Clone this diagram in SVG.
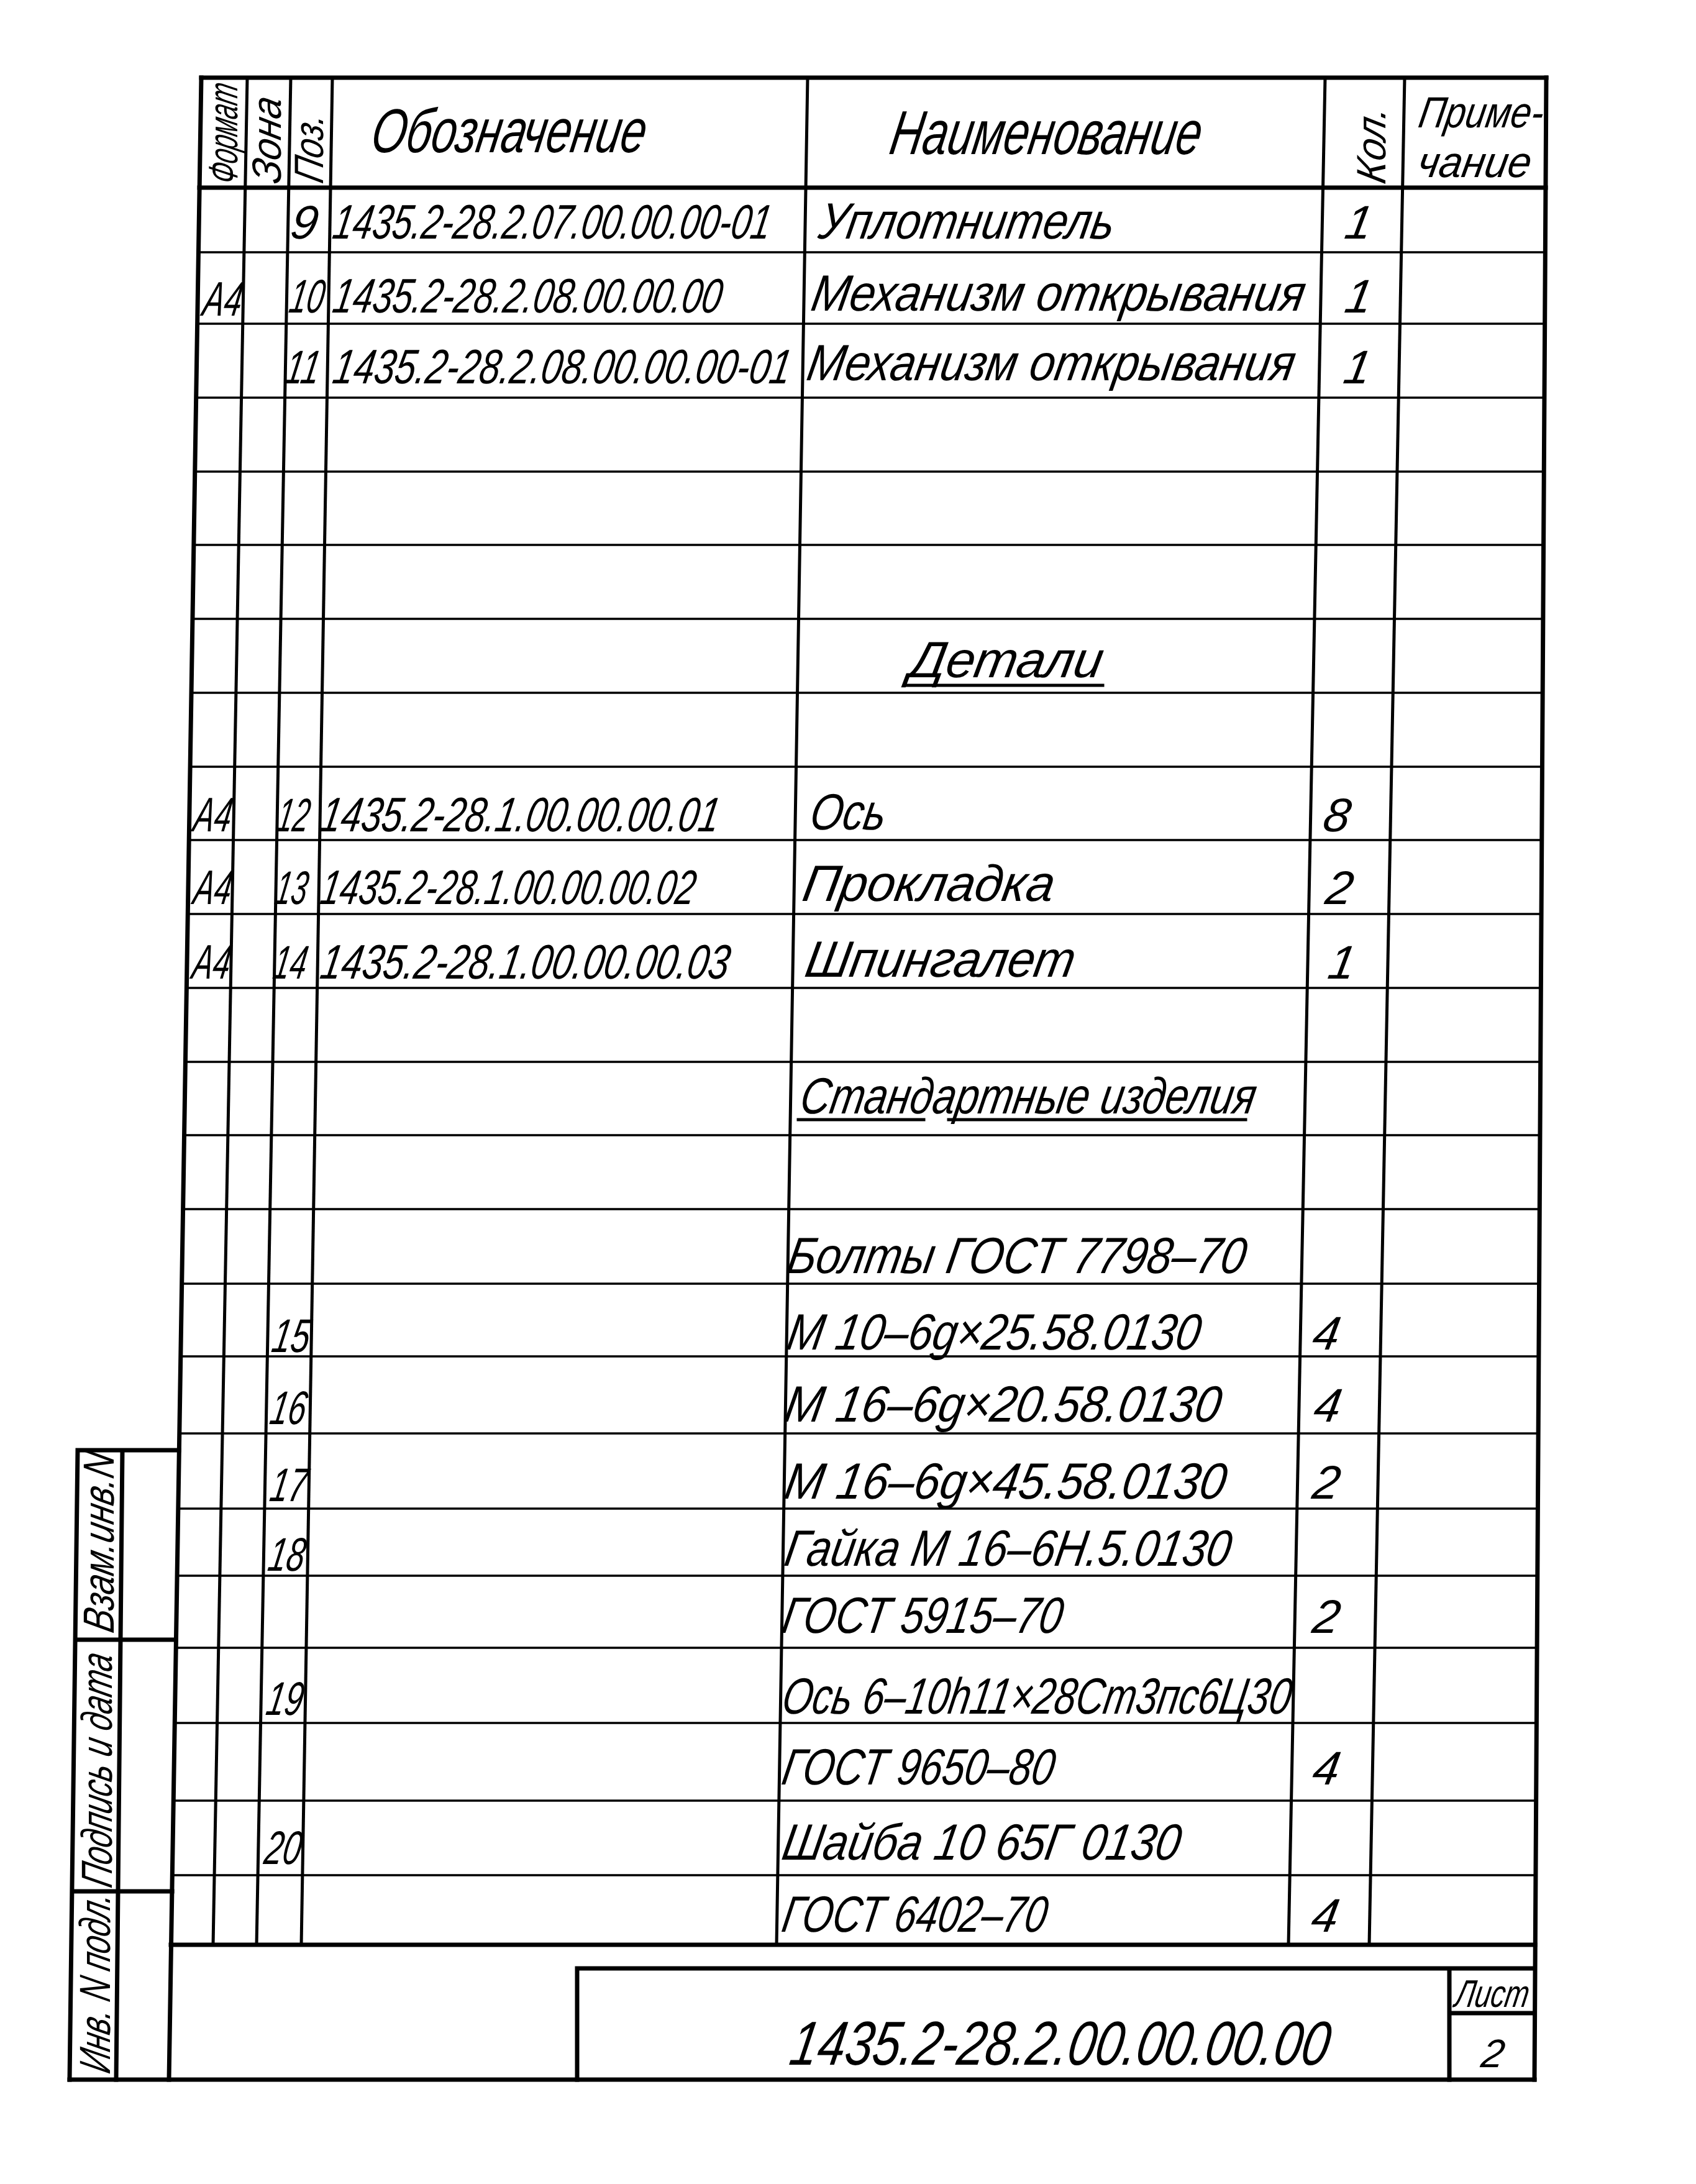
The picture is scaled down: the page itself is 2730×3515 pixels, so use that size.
<svg xmlns="http://www.w3.org/2000/svg" width="2730" height="3515" viewBox="0 0 2730 3515">
<style>
.t{font-family:"Liberation Sans","DejaVu Sans",sans-serif;font-style:italic;fill:#000}
.h{font-size:100px}
.c{font-size:78px}
.n{font-size:82px}
.k{font-size:76px}
.r{font-size:66px}
.s{font-size:70px}
.L{stroke:#000;fill:none;stroke-linecap:square}
.w7{stroke-width:7}
.w5{stroke-width:5}
.w3{stroke-width:3.5}
</style>
<rect width="2730" height="3515" fill="#fff"/>
<g id="grid">
<g id="frame" class="L w7">
<path d="M324,125 L2489,125"/>
<path d="M324,125 L272,3347"/>
<path d="M2489,125 L2470,3347"/>
<path d="M112,3347 L2470,3347"/>
<path d="M321,302 L2488,302"/>
<path d="M275,3130 L2471,3130"/>
</g>
<g id="columns" class="L w5">
<path d="M398,125 L343,3130"/>
<path d="M468,125 L413,3130"/>
<path d="M535,125 L485,3130"/>
<path d="M1300,125 L1250,3130"/>
<path d="M2133,125 L2074,3130"/>
<path d="M2261,125 L2204,3130"/>
</g>
<g id="rows" class="L w3">
<path d="M319,406 L2487,406"/>
<path d="M318,521 L2487,521"/>
<path d="M316,640 L2486,640"/>
<path d="M314,759 L2485,759"/>
<path d="M312,877 L2485,877"/>
<path d="M310,996 L2484,996"/>
<path d="M308,1115 L2483,1115"/>
<path d="M306,1234 L2482,1234"/>
<path d="M304,1352 L2482,1352"/>
<path d="M302,1471 L2481,1471"/>
<path d="M300,1590 L2480,1590"/>
<path d="M298,1709 L2480,1709"/>
<path d="M297,1827 L2479,1827"/>
<path d="M295,1946 L2478,1946"/>
<path d="M293,2066 L2478,2066"/>
<path d="M291,2183 L2477,2183"/>
<path d="M289,2307 L2476,2307"/>
<path d="M287,2428 L2475,2428"/>
<path d="M285,2536 L2475,2536"/>
<path d="M283,2652 L2474,2652"/>
<path d="M281,2773 L2473,2773"/>
<path d="M279,2898 L2473,2898"/>
<path d="M277,3018 L2472,3018"/>
</g>
</g>
<g id="header">
<text class="t r" transform="translate(382 298) rotate(-90) skewX(-12)" textLength="160" lengthAdjust="spacingAndGlyphs">Формат</text>
<text class="t r" transform="translate(452 298) rotate(-90) skewX(-12)" textLength="138" lengthAdjust="spacingAndGlyphs">Зона</text>
<text class="t r" transform="translate(520 297) rotate(-90) skewX(-12)" textLength="110" lengthAdjust="spacingAndGlyphs">Поз.</text>
<text class="t h" transform="translate(594 245) skewX(-10)" textLength="441" lengthAdjust="spacingAndGlyphs">Обозначение</text>
<text class="t h" transform="translate(1429 248) skewX(-10)" textLength="500" lengthAdjust="spacingAndGlyphs">Наименование</text>
<text class="t r" transform="translate(2230 298) rotate(-90) skewX(-12)" textLength="122" lengthAdjust="spacingAndGlyphs">Кол.</text>
<text class="t s" transform="translate(2281 205) skewX(-10)" textLength="200" lengthAdjust="spacingAndGlyphs">Приме-</text>
<text class="t s" transform="translate(2279 285) skewX(-10)" textLength="182" lengthAdjust="spacingAndGlyphs">чание</text>
</g>
<g id="row9">
<text class="t k" transform="translate(465 384) skewX(-10)">9</text>
<text class="t c" transform="translate(533 384) skewX(-10)" textLength="704" lengthAdjust="spacingAndGlyphs">1435.2-28.2.07.00.00.00-01</text>
<text class="t n" transform="translate(1315 384) skewX(-10)" textLength="475" lengthAdjust="spacingAndGlyphs">Уплотнитель</text>
<text class="t k" transform="translate(2162 384) skewX(-10)">1</text>
</g>
<g id="row10">
<text class="t c" transform="translate(324 508) skewX(-10)" textLength="62" lengthAdjust="spacingAndGlyphs">А4</text>
<text class="t k" transform="translate(463 503) skewX(-10)" textLength="55" lengthAdjust="spacingAndGlyphs">10</text>
<text class="t c" transform="translate(533 503) skewX(-10)" textLength="625" lengthAdjust="spacingAndGlyphs">1435.2-28.2.08.00.00.00</text>
<text class="t n" transform="translate(1303 500) skewX(-10)" textLength="793" lengthAdjust="spacingAndGlyphs">Механизм открывания</text>
<text class="t k" transform="translate(2162 503) skewX(-10)">1</text>
</g>
<g id="row11">
<text class="t k" transform="translate(456 617) skewX(-10)" textLength="55" lengthAdjust="spacingAndGlyphs">11</text>
<text class="t c" transform="translate(533 617) skewX(-10)" textLength="736" lengthAdjust="spacingAndGlyphs">1435.2-28.2.08.00.00.00-01</text>
<text class="t n" transform="translate(1296 612) skewX(-10)" textLength="784" lengthAdjust="spacingAndGlyphs">Механизм открывания</text>
<text class="t k" transform="translate(2160 617) skewX(-10)">1</text>
</g>
<g id="section-details">
<text class="t n" transform="translate(1461 1090) skewX(-10)" textLength="310" lengthAdjust="spacingAndGlyphs">Детали</text>
<path class="L w5" d="M1457,1103 L1775,1103"/>
</g>
<g id="row12">
<text class="t c" transform="translate(309 1338) skewX(-10)" textLength="60" lengthAdjust="spacingAndGlyphs">А4</text>
<text class="t k" transform="translate(443 1338) skewX(-10)" textLength="51" lengthAdjust="spacingAndGlyphs">12</text>
<text class="t c" transform="translate(513 1338) skewX(-10)" textLength="641" lengthAdjust="spacingAndGlyphs">1435.2-28.1.00.00.00.01</text>
<text class="t n" transform="translate(1301 1335) skewX(-10)" textLength="121" lengthAdjust="spacingAndGlyphs">Ось</text>
<text class="t k" transform="translate(2127 1338) skewX(-10)">8</text>
</g>
<g id="row13">
<text class="t c" transform="translate(309 1455) skewX(-10)" textLength="60" lengthAdjust="spacingAndGlyphs">А4</text>
<text class="t k" transform="translate(440 1455) skewX(-10)" textLength="51" lengthAdjust="spacingAndGlyphs">13</text>
<text class="t c" transform="translate(513 1455) skewX(-10)" textLength="602" lengthAdjust="spacingAndGlyphs">1435.2-28.1.00.00.00.02</text>
<text class="t n" transform="translate(1289 1450) skewX(-10)" textLength="404" lengthAdjust="spacingAndGlyphs">Прокладка</text>
<text class="t k" transform="translate(2131 1455) skewX(-10)">2</text>
</g>
<g id="row14">
<text class="t c" transform="translate(307 1575) skewX(-10)" textLength="60" lengthAdjust="spacingAndGlyphs">А4</text>
<text class="t k" transform="translate(437 1575) skewX(-10)" textLength="53" lengthAdjust="spacingAndGlyphs">14</text>
<text class="t c" transform="translate(513 1575) skewX(-10)" textLength="657" lengthAdjust="spacingAndGlyphs">1435.2-28.1.00.00.00.03</text>
<text class="t n" transform="translate(1293 1572) skewX(-10)" textLength="433" lengthAdjust="spacingAndGlyphs">Шпингалет</text>
<text class="t k" transform="translate(2135 1575) skewX(-10)">1</text>
</g>
<g id="section-standard">
<text class="t n" transform="translate(1285 1792) skewX(-10)" textLength="732" lengthAdjust="spacingAndGlyphs">Стандартные изделия</text>
<path class="L w5" d="M1285,1802 L1487,1802 M1527,1802 L2005,1802"/>
</g>
<g id="bolts">
<text class="t n" transform="translate(1264 2049) skewX(-10)" textLength="737" lengthAdjust="spacingAndGlyphs">Болты ГОСТ 7798–70</text>
</g>
<g id="row15">
<text class="t k" transform="translate(435 2176) skewX(-10)" textLength="60" lengthAdjust="spacingAndGlyphs">15</text>
<text class="t n" transform="translate(1264 2172) skewX(-10)" textLength="664" lengthAdjust="spacingAndGlyphs">М 10–6g×25.58.0130</text>
<text class="t k" transform="translate(2110 2172) skewX(-10)">4</text>
</g>
<g id="row16">
<text class="t k" transform="translate(432 2292) skewX(-10)" textLength="57" lengthAdjust="spacingAndGlyphs">16</text>
<text class="t n" transform="translate(1260 2288) skewX(-10)" textLength="701" lengthAdjust="spacingAndGlyphs">М 16–6g×20.58.0130</text>
<text class="t k" transform="translate(2112 2288) skewX(-10)">4</text>
</g>
<g id="row17">
<text class="t k" transform="translate(432 2416) skewX(-10)" textLength="58" lengthAdjust="spacingAndGlyphs">17</text>
<text class="t n" transform="translate(1260 2412) skewX(-10)" textLength="709" lengthAdjust="spacingAndGlyphs">М 16–6g×45.58.0130</text>
<text class="t k" transform="translate(2110 2412) skewX(-10)">2</text>
</g>
<g id="row18">
<text class="t k" transform="translate(429 2528) skewX(-10)" textLength="58" lengthAdjust="spacingAndGlyphs">18</text>
<text class="t n" transform="translate(1260 2520) skewX(-10)" textLength="717" lengthAdjust="spacingAndGlyphs">Гайка М 16–6Н.5.0130</text>
<text class="t n" transform="translate(1256 2628) skewX(-10)" textLength="450" lengthAdjust="spacingAndGlyphs">ГОСТ 5915–70</text>
<text class="t k" transform="translate(2110 2628) skewX(-10)">2</text>
</g>
<g id="row19">
<text class="t k" transform="translate(426 2760) skewX(-10)" textLength="58" lengthAdjust="spacingAndGlyphs">19</text>
<text class="t n" transform="translate(1256 2758) skewX(-10)" textLength="818" lengthAdjust="spacingAndGlyphs">Ось 6–10h11×28Ст3пс6Ц30</text>
<text class="t n" transform="translate(1256 2872) skewX(-10)" textLength="437" lengthAdjust="spacingAndGlyphs">ГОСТ 9650–80</text>
<text class="t k" transform="translate(2110 2872) skewX(-10)">4</text>
</g>
<g id="row20">
<text class="t k" transform="translate(423 3000) skewX(-10)" textLength="58" lengthAdjust="spacingAndGlyphs">20</text>
<text class="t n" transform="translate(1256 2993) skewX(-10)" textLength="640" lengthAdjust="spacingAndGlyphs">Шайба 10 65Г 0130</text>
<text class="t n" transform="translate(1256 3109) skewX(-10)" textLength="425" lengthAdjust="spacingAndGlyphs">ГОСТ 6402–70</text>
<text class="t k" transform="translate(2108 3109) skewX(-10)">4</text>
</g>
<g id="stamp">
<path class="L w7" d="M125,2334 L112,3347 M197,2334 L187,3347 M125,2334 L288,2334 M122,2639 L283,2639 M117,3044 L277,3044"/>
<text class="t s" transform="translate(183 2630) rotate(-90) skewX(-12)" textLength="288" lengthAdjust="spacingAndGlyphs">Взам.инв.N</text>
<text class="t s" transform="translate(180 3040) rotate(-90) skewX(-12)" textLength="375" lengthAdjust="spacingAndGlyphs">Подпись и дата</text>
<text class="t s" transform="translate(177 3339) rotate(-90) skewX(-12)" textLength="288" lengthAdjust="spacingAndGlyphs">Инв. N подл.</text>
</g>
<g id="title-block">
<path class="L w7" d="M929,3168 L2470,3168 M929,3168 L929,3347 M2333,3168 L2333,3347 M2333,3240 L2470,3240"/>
<text class="t" font-size="100" transform="translate(1268 3323) skewX(-10)" textLength="867" lengthAdjust="spacingAndGlyphs">1435.2-28.2.00.00.00.00</text>
<text class="t" font-size="62" transform="translate(2340 3230) skewX(-10)" textLength="118" lengthAdjust="spacingAndGlyphs">Лист</text>
<text class="t" font-size="64" transform="translate(2382 3327) skewX(-10)">2</text>
</g>
</svg>
